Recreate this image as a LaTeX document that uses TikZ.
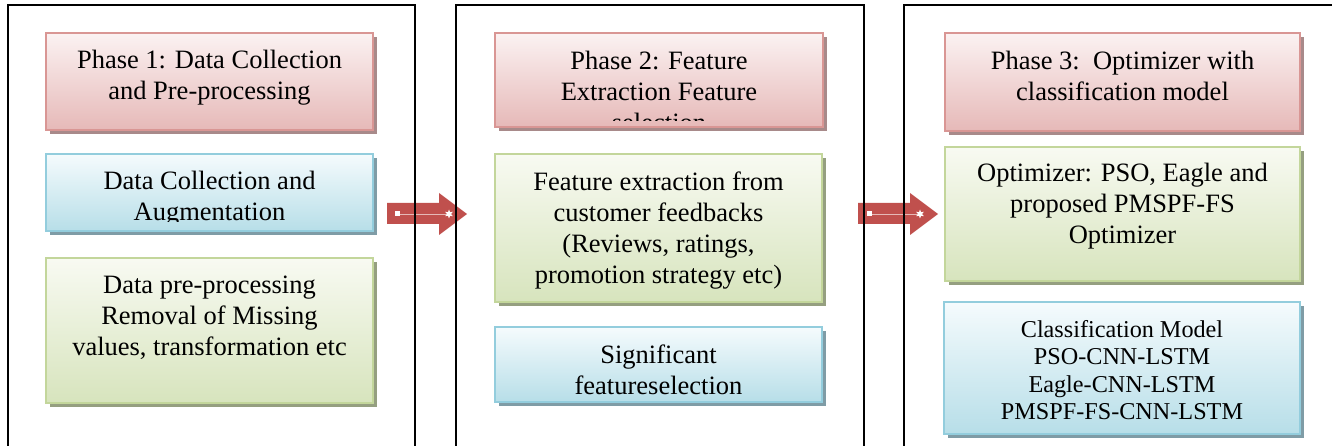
\documentclass[tikz,border=0pt]{standalone}
\usepackage{fontspec}
\setmainfont{Liberation Serif}
\usetikzlibrary{shapes.geometric}
\definecolor{redline}{HTML}{D99694}
\definecolor{redtop}{HTML}{FBF2F2}
\definecolor{redbot}{HTML}{E6B9B8}
\definecolor{redshadow}{HTML}{A88A8A}
\definecolor{blueline}{HTML}{93CDDD}
\definecolor{bluetop}{HTML}{F5FBFD}
\definecolor{bluebot}{HTML}{B7DEE8}
\definecolor{blueshadow}{HTML}{7F9CA6}
\definecolor{greenline}{HTML}{C3D69B}
\definecolor{greentop}{HTML}{F8FAF2}
\definecolor{greenbot}{HTML}{D7E4BD}
\definecolor{greenshadow}{HTML}{959F80}
\definecolor{arrowred}{HTML}{C0504D}
\begin{document}
\begin{tikzpicture}[x=1pt,y=-1pt,
  box/.style={rectangle, inner sep=0pt, outer sep=0pt, draw=#1line, line width=1.5pt,
    top color=#1top, bottom color=#1bot,
    preaction={fill=#1shadow, transform canvas={xshift=4pt,yshift=-4pt}}},
  txt/.style={align=center, inner sep=0pt, font=\fontsize{26.5}{31}\selectfont},
  smalltxt/.style={align=center, inner sep=0pt, font=\fontsize{24.2}{27.6}\selectfont},
  panel/.style={line width=2pt, black},
  blockarrow/.style={fill=arrowred},
  startmark/.style={rectangle, fill=white, minimum size=5pt, inner sep=0pt},
  endmark/.style={star, star points=6, star point ratio=2.2, fill=white, minimum size=9pt, inner sep=0pt},
  markline/.style={white, opacity=0.6, line width=0.7pt}]
\useasboundingbox (0,0) rectangle (1332,446);
\clip (0,0) rectangle (1332,446);
\fill[white] (0,0) rectangle (1332,446);

% Phase 1 boxes
\node[box=red, minimum width=327pt, minimum height=97pt] (p1h) at (209.5,81.5) {};
\node[box=blue, minimum width=327pt, minimum height=77pt] (p1b) at (209.5,192.5) {};
\node[box=green, minimum width=327pt, minimum height=145pt] (p1g) at (209.5,330.5) {};
% Phase 2 boxes
\node[box=red, minimum width=328pt, minimum height=94pt] (p2h) at (659,80) {};
\node[box=green, minimum width=327pt, minimum height=148pt] (p2g) at (658.5,228) {};
\node[box=blue, minimum width=327pt, minimum height=75pt] (p2b) at (658.5,364.5) {};
% Phase 3 boxes
\node[box=red, minimum width=355pt, minimum height=98pt] (p3h) at (1122.5,82) {};
\node[box=green, minimum width=355pt, minimum height=134pt] (p3g) at (1122.5,214) {};
\node[box=blue, minimum width=356pt, minimum height=132pt] (p3b) at (1122,368) {};

% texts
\node[txt] (t1h) at (209.5,78) {Phase 1: Data Collection\\and Pre-processing};
\begin{scope}
  \clip (46,154) rectangle (373,222);
  \node[txt] (t1b) at (209.5,198.5) {Data Collection and\\Augmentation};
\end{scope}
\node[txt] (t1g) at (209.5,318) {Data pre-processing\\Removal of Missing\\values, transformation etc};
\begin{scope}
  \clip (495,33) rectangle (823,121);
  \node[txt] (t2h) at (659,91) {Phase 2: Feature\\Extraction Feature\\selection};
\end{scope}
\node[txt] (t2g) at (658.5,231) {Feature extraction from\\customer feedbacks\\(Reviews, ratings,\\promotion strategy etc)};
\node[txt] (t2b) at (658.5,370) {Significant\\featureselection};
\node[txt] (t3h) at (1122.5,76) {Phase 3:\ \ Optimizer with\\classification model};
\node[txt] (t3g) at (1122.5,206) {Optimizer: PSO, Eagle and\\proposed PMSPF-FS\\Optimizer};
\node[smalltxt] (t3b) at (1122,370) {Classification Model\\PSO-CNN-LSTM\\Eagle-CNN-LSTM\\PMSPF-FS-CNN-LSTM};

% block arrows
\fill[blockarrow] (387,203) -- (439,203) -- (439,193) -- (467,214) -- (439,235) -- (439,224) -- (387,224) -- cycle;
\node[startmark] (a1s) at (397,214) {};
\node[endmark] (a1e) at (449,214) {};
\draw[markline] (a1s) -- (a1e);
\fill[blockarrow] (858,203) -- (910,203) -- (910,193) -- (938,214) -- (910,235) -- (910,224) -- (858,224) -- cycle;
\node[startmark] (a2s) at (869,214) {};
\node[endmark] (a2e) at (920,214) {};
\draw[markline] (a2s) -- (a2e);

% panels
\draw[panel] (8,460) -- (8,5) -- (415,5) -- (415,460);
\draw[panel] (456,460) -- (456,5) -- (864,5) -- (864,460);
\draw[panel] (904,460) -- (904,5) -- (1345,5);
\end{tikzpicture}
\end{document}
